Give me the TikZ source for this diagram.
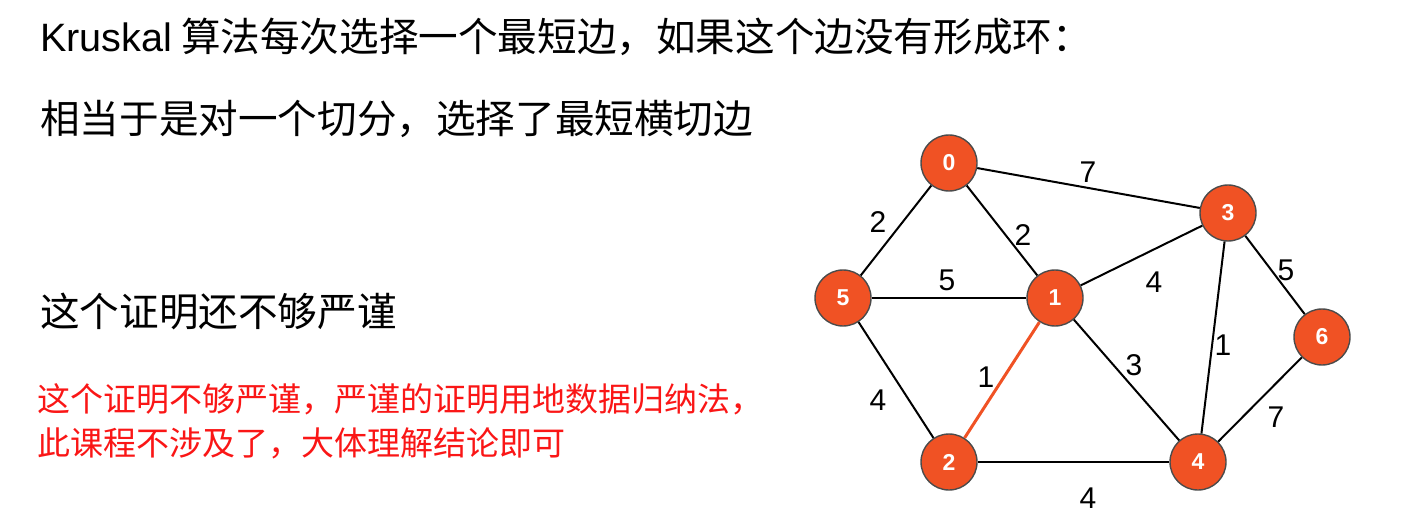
\documentclass[tikz,border=0pt]{standalone}
\usepackage{fontspec}
\setmainfont{Liberation Sans}
\newfontfamily\cjkfont{Noto Sans CJK SC}
\usepackage{tikz}
\definecolor{vertexfill}{RGB}{240,82,36}
\definecolor{vertexline}{RGB}{75,75,75}
\definecolor{noteRed}{RGB}{250,22,22}

\begin{document}
\begin{tikzpicture}[
        x=1pt, y=-1pt,
        vertex/.style={
            circle,
            draw=vertexline,
            line width=1.4pt,
            fill=vertexfill,
            minimum size=56pt,
            inner sep=0pt,
            text=white,
            font=\bfseries\fontsize{23}{23}\selectfont
        },
        weight/.style={inner sep=0pt, font=\fontsize{30}{30}\selectfont},
        edge/.style={line width=2pt},
        picked/.style={line width=3pt, draw=vertexfill},
        title/.style={anchor=west, inner sep=0pt, font=\cjkfont\fontsize{39.6}{47}\selectfont},
        note/.style={anchor=west, inner sep=0pt, text=noteRed, font=\cjkfont\fontsize{33}{40}\selectfont}
    ]

        \useasboundingbox (0,0) rectangle (1415,529);

        \node[title] (line1) at (40,37) {{\rmfamily Kruskal} 算法每次选择一个最短边，如果这个边没有形成环：};
        \node[title] (line2) at (40,119) {相当于是对一个切分，选择了最短横切边};
        \node[title] (line3) at (40,311) {这个证明还不够严谨};
        \node[note] (note1) at (37,399) {这个证明不够严谨，严谨的证明用地数据归纳法，};
        \node[note] (note2) at (37,443) {此课程不涉及了，大体理解结论即可};

        \node[vertex] (n0) at (949,163) {0};
        \node[vertex] (n1) at (1055,298) {1};
        \node[vertex] (n2) at (949,462) {2};
        \node[vertex] (n3) at (1228,213) {3};
        \node[vertex] (n4) at (1198,462) {4};
        \node[vertex] (n5) at (843,298) {5};
        \node[vertex] (n6) at (1322,337) {6};

        \draw[edge] (n0) -- (n3);
        \draw[edge] (n0) -- (n5);
        \draw[edge] (n0) -- (n1);
        \draw[edge] (n5) -- (n1);
        \draw[edge] (n1) -- (n3);
        \draw[edge] (n3) -- (n6);
        \draw[edge] (n3) -- (n4);
        \draw[edge] (n1) -- (n4);
        \draw[edge] (n5) -- (n2);
        \draw[edge] (n4) -- (n6);
        \draw[edge] (n2) -- (n4);
        \draw[picked] (n1) -- (n2);

        \node[weight] (w03) at (1088,172) {7};
        \node[weight] (w05) at (878,222) {2};
        \node[weight] (w01) at (1023,235) {2};
        \node[weight] (w51) at (947,280) {5};
        \node[weight] (w13) at (1154,282) {4};
        \node[weight] (w36) at (1286,270) {5};
        \node[weight] (w34) at (1223,345) {1};
        \node[weight] (w14) at (1134,365) {3};
        \node[weight] (w12) at (986,377) {1};
        \node[weight] (w52) at (878,400) {4};
        \node[weight] (w46) at (1276,417) {7};
        \node[weight] (w24) at (1088,498) {4};

    \end{tikzpicture}
\end{document}
